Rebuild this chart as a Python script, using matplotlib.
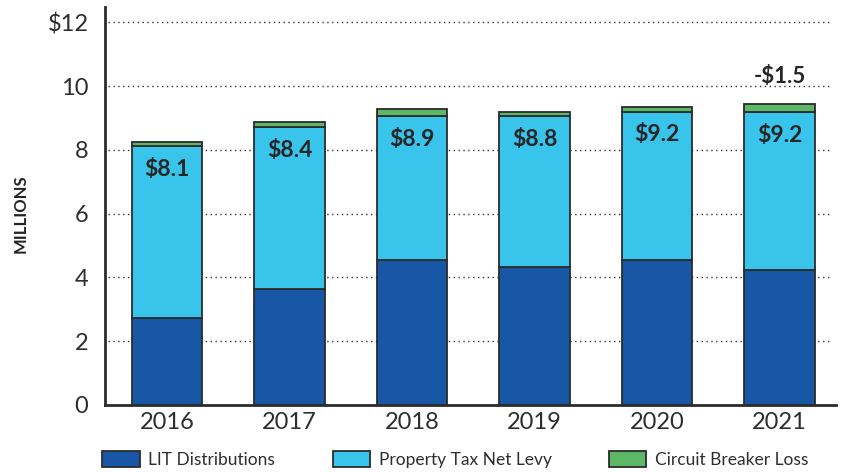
import matplotlib.pyplot as plt
import numpy as np

years = ['2016', '2017', '2018', '2019', '2020', '2021']
lit_distributions = [2.72, 3.63, 4.55, 4.32, 4.55, 4.23]
net_levy = [5.40, 5.09, 4.51, 4.74, 4.65, 4.96]
circuit_breaker = [0.13, 0.15, 0.21, 0.13, 0.14, 0.24]
bar_labels = ['$8.1', '$8.4', '$8.9', '$8.8', '$9.2', '$9.2']
cb_note = '-$1.5'

plt.rcParams['font.family'] = ['Lato', 'DejaVu Sans']

fig = plt.figure(figsize=(8.43, 4.72), dpi=100)
ax = fig.add_axes([0.1246, 0.142, 0.867, 0.843])

x = np.arange(len(years))
width = 0.576
edge = dict(edgecolor='#2b2b2b', linewidth=1.3, zorder=3)

ax.bar(x, lit_distributions, width, color='#1857a5', label='LIT Distributions', **edge)
bottom2 = np.array(lit_distributions)
ax.bar(x, net_levy, width, bottom=bottom2, color='#38c4eb', label='Property Tax Net Levy', **edge)
bottom3 = bottom2 + np.array(net_levy)
ax.bar(x, circuit_breaker, width, bottom=bottom3, color='#5cb866', label='Circuit Breaker Loss', **edge)

# totals printed just under the top of the levy segment
for i, lab in enumerate(bar_labels):
    ax.text(x[i], bottom3[i] - 0.4, lab, ha='center', va='top', fontsize=16.5,
            fontweight='bold', color='#262626', zorder=4)

top = bottom3 + np.array(circuit_breaker)
ax.text(x[-1], top[-1] + 0.55, cb_note, ha='center', va='bottom', fontsize=16,
        fontweight='bold', color='#262626', zorder=4)

ax.set_xlim(-0.506, 5.46)
ax.set_ylim(0, 12.48)
ax.set_yticks(np.arange(0, 13, 2))
ax.set_yticklabels(['0', '2', '4', '6', '8', '10', '$12'])
ax.set_xticks(x)
ax.set_xticklabels(years)
ax.tick_params(axis='both', length=0, labelsize=17, labelcolor='#2e2e2e')
ax.tick_params(axis='y', pad=12)
ax.tick_params(axis='x', pad=5)

for yv in np.arange(2, 13, 2):
    ax.axhline(yv, xmin=0.004, xmax=0.995, color='#333333', linestyle=(0, (1, 2.5)),
               linewidth=1.0, zorder=1)

ax.spines['right'].set_visible(False)
ax.spines['top'].set_visible(False)
ax.spines['left'].set_linewidth(2)
ax.spines['bottom'].set_linewidth(2)
ax.spines['left'].set_color('#2b2b2b')
ax.spines['bottom'].set_color('#2b2b2b')

fig.text(0.025, 0.547, 'MILLIONS', rotation=90, ha='center', va='center',
         fontsize=12, fontweight='bold', color='#222222')

leg = fig.legend(loc='lower left', bbox_to_anchor=(0.103, -0.025), ncol=3, frameon=False,
                 handlelength=2.15, handleheight=1.0, handletextpad=0.5,
                 columnspacing=3.3, prop={'size': 12.5})
for t in leg.get_texts():
    t.set_color('#2e2e2e')

fig.savefig('out.png', dpi=100)
